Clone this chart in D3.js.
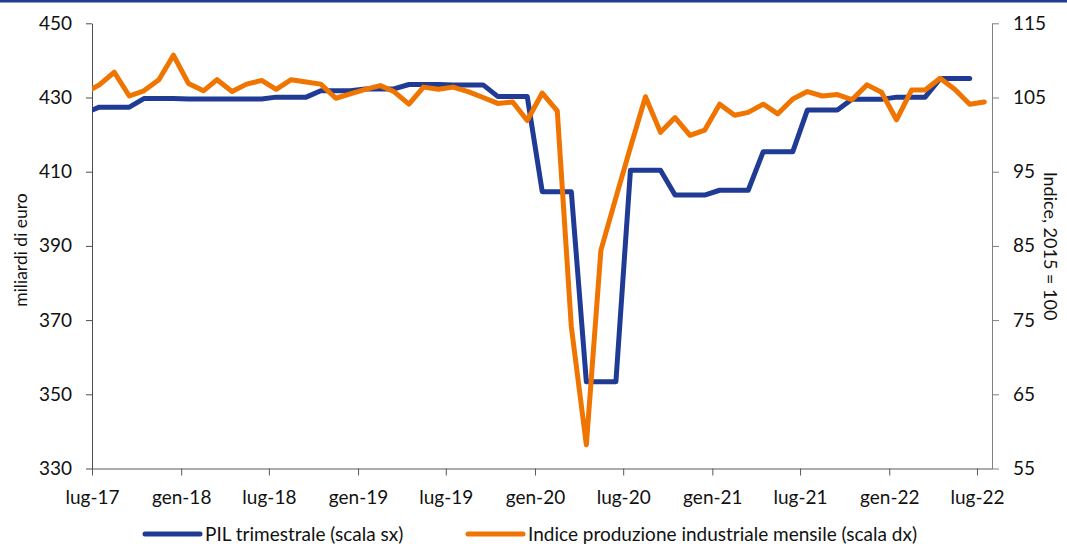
<!DOCTYPE html>
<html>
<head>
<meta charset="utf-8">
<script src="https://cdn.jsdelivr.net/npm/d3@7"></script>
<style>
  body { margin: 0; background: #fff; }
  svg text { font-family: Lato, sans-serif; fill: #111; }
</style>
</head>
<body>
<script>
const w = 1067;
const h = 544;

// monthly industrial production index (2015 = 100), Jun-17 .. Jul-22
const months = [
  "2017-06","2017-07","2017-08","2017-09","2017-10","2017-11","2017-12",
  "2018-01","2018-02","2018-03","2018-04","2018-05","2018-06","2018-07","2018-08","2018-09","2018-10","2018-11","2018-12",
  "2019-01","2019-02","2019-03","2019-04","2019-05","2019-06","2019-07","2019-08","2019-09","2019-10","2019-11","2019-12",
  "2020-01","2020-02","2020-03","2020-04","2020-05","2020-06","2020-07","2020-08","2020-09","2020-10","2020-11","2020-12",
  "2021-01","2021-02","2021-03","2021-04","2021-05","2021-06","2021-07","2021-08","2021-09","2021-10","2021-11","2021-12",
  "2022-01","2022-02","2022-03","2022-04","2022-05","2022-06","2022-07"
];
const prodIndex = [
  105.6, 106.7, 108.4, 105.2, 105.9, 107.4, 110.7,
  106.9, 105.9, 107.4, 105.8, 106.8, 107.3, 106.1, 107.4, 107.1, 106.8, 104.9, 105.5,
  106.1, 106.6, 105.8, 104.1, 106.4, 106.1, 106.4, 105.8, 105.0, 104.2, 104.4, 101.9,
  105.6, 103.2, 74.1, 58.2, 84.4, 91.5, 98.3, 105.1, 100.3, 102.3, 99.9, 100.6,
  104.1, 102.6, 103.0, 104.1, 102.8, 104.8, 105.8, 105.2, 105.4, 104.7, 106.7, 105.7,
  102.0, 106.0, 106.0, 107.6, 106.1, 104.1, 104.4
];

// quarterly GDP, billions of euro (first month of each quarter)
const quarters = [
  "2017-04","2017-07","2017-10","2018-01","2018-04","2018-07","2018-10",
  "2019-01","2019-04","2019-07","2019-10","2020-01","2020-04","2020-07","2020-10",
  "2021-01","2021-04","2021-07","2021-10","2022-01","2022-04"
];
const gdp = [
  425.8, 427.4, 429.7, 429.6, 429.6, 430.1, 431.8,
  432.3, 433.5, 433.4, 430.3, 404.6, 353.4, 410.4, 403.7,
  405.0, 415.4, 426.6, 429.5, 430.1, 435.1
];

const xTickMonths = ["2017-07","2018-01","2018-07","2019-01","2019-07","2020-01","2020-07","2021-01","2021-07","2022-01","2022-07"];
const xTickLabels = ["lug-17","gen-18","lug-18","gen-19","lug-19","gen-20","lug-20","gen-21","lug-21","gen-22","lug-22"];
const leftTicks = [330, 350, 370, 390, 410, 430, 450];
const rightTicks = [55, 65, 75, 85, 95, 105, 115];

const blue = '#1f3b94';
const orange = '#f07400';

const parse = d3.timeParse('%Y-%m');
const mid = (d) => d3.timeDay.offset(d, 15);

const plotL = 92, plotR = 992, plotT = 23.3, plotB = 468.5;

const svg = d3.select('body').append('svg').attr('width', w).attr('height', h);

// top rule
svg.append('rect').attr('x', 0).attr('y', 0).attr('width', w).attr('height', 2.5).attr('fill', blue);

const xScale = d3.scaleTime()
  .domain([parse('2017-07'), parse('2022-08')])
  .range([plotL, plotR]);
const yLeft = d3.scaleLinear().domain([330, 450]).range([plotB, plotT]);
const yRight = d3.scaleLinear().domain([55, 115]).range([plotB, plotT]);

// axes
const xAxis = d3.axisBottom(xScale)
  .tickValues(xTickMonths.map(parse))
  .tickFormat((d, i) => xTickLabels[i])
  .tickSize(7).tickPadding(15).tickSizeOuter(0);
const gx = svg.append('g').attr('transform', 'translate(0,' + plotB + ')').call(xAxis);

const gl = svg.append('g').attr('transform', 'translate(' + plotL + ',0)')
  .call(d3.axisLeft(yLeft).tickValues(leftTicks).tickSize(6).tickPadding(14).tickSizeOuter(0));

const gr = svg.append('g').attr('transform', 'translate(' + plotR + ',0)')
  .call(d3.axisRight(yRight).tickValues(rightTicks).tickSize(7).tickPadding(14).tickSizeOuter(0));

[gx, gl, gr].forEach(g => {
  g.selectAll('text').style('font-size', '19px').attr('fill', '#111');
});
gx.selectAll('path,line').attr('stroke', '#595959');
gl.selectAll('path,line').attr('stroke', '#4d4d4d');
gr.selectAll('path,line').attr('stroke', '#808080');

// axis titles
svg.append('text')
  .attr('transform', 'translate(27,' + 250 + ') rotate(-90)')
  .attr('text-anchor', 'middle')
  .style('font-size', '17.5px')
  .text('miliardi di euro');

svg.append('text')
  .attr('transform', 'translate(1044,' + 246 + ') rotate(90)')
  .attr('text-anchor', 'middle')
  .style('font-size', '18px')
  .text('Indice, 2015 = 100');

// clip to plot area
svg.append('clipPath').attr('id', 'plot')
  .append('rect').attr('x', plotL).attr('y', 0).attr('width', plotR - plotL).attr('height', h);

// expand quarterly GDP into monthly steps
const gdpMonthly = [];
quarters.forEach((q, i) => {
  const d = parse(q);
  for (let k = 0; k < 3; k++) gdpMonthly.push([d3.timeMonth.offset(d, k), gdp[i]]);
});
const prodMonthly = months.map((m, i) => [parse(m), prodIndex[i]]);

const lineLeft = d3.line().x(d => xScale(mid(d[0]))).y(d => yLeft(d[1]));
const lineRight = d3.line().x(d => xScale(mid(d[0]))).y(d => yRight(d[1]));

const plot = svg.append('g').attr('clip-path', 'url(#plot)');

plot.append('path')
  .datum(gdpMonthly)
  .attr('d', lineLeft)
  .attr('fill', 'none')
  .attr('stroke', blue)
  .attr('stroke-width', 5)
  .attr('stroke-linejoin', 'round')
  .attr('stroke-linecap', 'round');

plot.append('path')
  .datum(prodMonthly)
  .attr('d', lineRight)
  .attr('fill', 'none')
  .attr('stroke', orange)
  .attr('stroke-width', 5)
  .attr('stroke-linejoin', 'round')
  .attr('stroke-linecap', 'round');

// legend
const legend = [
  {label: 'PIL trimestrale (scala sx)', color: blue, x: 145},
  {label: 'Indice produzione industriale mensile (scala dx)', color: orange, x: 468}
];
const lg = svg.append('g').selectAll('g').data(legend).enter().append('g')
  .attr('transform', d => 'translate(' + d.x + ',534)');
lg.append('line')
  .attr('x1', 0).attr('x2', 55).attr('y1', 0).attr('y2', 0)
  .attr('stroke', d => d.color).attr('stroke-width', 5).attr('stroke-linecap', 'round');
lg.append('text')
  .attr('x', 60).attr('y', 6.5)
  .style('font-size', '19px')
  .text(d => d.label);
</script>
</body>
</html>
